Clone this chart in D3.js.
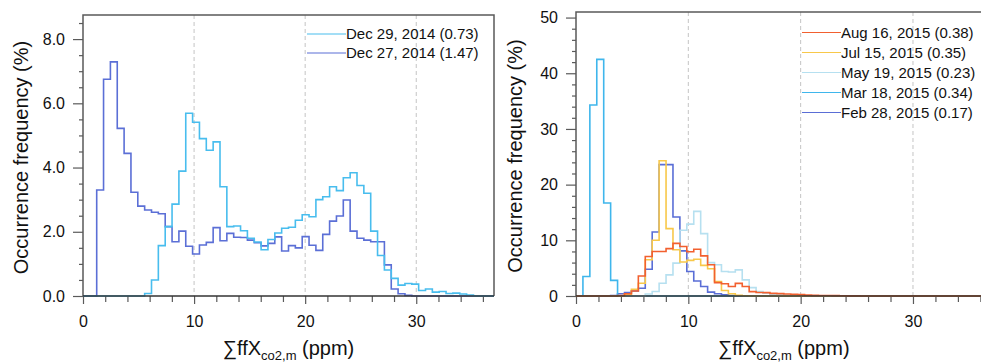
<!DOCTYPE html>
<html>
<head>
<meta charset="utf-8">
<script src="https://cdn.jsdelivr.net/npm/d3@7"></script>
<style>
body { margin: 0; background: #fff; }
svg { display: block; font-family: "Liberation Sans", Arial, sans-serif; }
</style>
</head>
<body>
<div id="vue"></div>
<script>
// bins : 60 classes de 0 a 37 ppm
var binCount = 60;
var binMax = 37;

// panneau gauche (decembre 2014)
var dec29 = [0,0,0,0,0,0,0,0,0,0.08,0.5,1.57,2.16,2.86,3.89,5.69,5.41,4.9,4.54,4.8,
  3.4,2.16,2.18,2.03,1.8,1.68,1.44,1.76,1.96,2.11,2.14,2.36,2.53,2.47,3.0,3.09,3.4,3.28,3.68,3.84,
  3.44,3.2,2.02,1.26,0.81,0.55,0.34,0.39,0.37,0.17,0.22,0.12,0.14,0.08,0.09,0.06,0.03,0,0,0];
var dec27 = [0,0,3.3,6.75,7.29,5.22,4.44,3.23,2.8,2.68,2.61,2.56,2.16,1.69,2.02,1.55,1.31,1.59,1.67,2.13,
  1.72,1.95,1.83,1.82,1.74,1.66,1.56,1.64,1.84,1.4,1.57,1.5,1.85,1.58,1.42,1.92,2.33,2.49,2.99,2.02,
  1.8,1.74,1.69,1.69,0.97,0.22,0.07,0.02,0,0,0,0,0,0,0,0,0,0,0,0];

// panneau droit (2015)
var aug16 = [0,0,0,0,0,0,0.1,0.4,0.9,3.6,7.1,8.0,8.0,8.5,9.45,8.9,7.95,8.4,7.2,5.6,
  2.4,2.2,1.7,2.27,1.7,0.78,0.62,0.6,0.48,0.42,0.36,0.3,0.24,0.16,0.12,0.1,0.08,0.06,0.04,0.03,
  0.02,0,0,0,0,0,0,0,0,0,0,0,0,0,0,0,0,0,0,0];
var jul15 = [0,0,0,0,0,0,0,0.3,1.2,2.3,6.5,10.0,24.3,12.1,8.3,6.1,6.4,6.6,5.5,4.9,
  2.6,1.0,0.4,0.12,0.05,0,0,0,0,0,0,0,0,0,0,0,0,0,0,0,
  0,0,0,0,0,0,0,0,0,0,0,0,0,0,0,0,0,0,0,0];
var may19 = [0,0,0,0,0,0,0,0,0,0,0.36,0.8,2.3,3.8,5.9,11.8,12.9,15.2,11.2,6.0,
  5.6,4.4,4.3,4.7,2.9,1.5,0.8,0.5,0.3,0.2,0.12,0.06,0,0,0,0,0,0,0,0,
  0,0,0,0,0,0,0,0,0,0,0,0,0,0,0,0,0,0,0,0];
var mar18 = [0,3.5,34.3,42.5,16.7,2.8,0,0,0,0,0,0,0,0,0,0,0,0,0,0,
  0,0,0,0,0,0,0,0,0,0,0,0,0,0,0,0,0,0,0,0,
  0,0,0,0,0,0,0,0,0,0,0,0,0,0,0,0,0,0,0,0];
var feb28 = [0,0,0,0,0,0.1,0.4,0.6,0.9,1.4,4.8,11.5,23.6,23.6,14.2,8.1,4.4,2.7,1.7,0.7,
  0.4,0.2,0.1,0,0,0,0,0,0,0,0,0,0,0,0,0,0,0,0,0,
  0,0,0,0,0,0,0,0,0,0,0,0,0,0,0,0,0,0,0,0];

var leftLabels = ["Dec 29, 2014 (0.73)", "Dec 27, 2014 (1.47)"];
var rightLabels = ["Aug 16, 2015 (0.38)", "Jul 15, 2015 (0.35)", "May 19, 2015 (0.23)",
  "Mar 18, 2015 (0.34)", "Feb 28, 2015 (0.17)"];

var xMajor = [0, 10, 20, 30];
var leftYMajor = [0, 2, 4, 6, 8];
var rightYMajor = [0, 10, 20, 30, 40, 50];

var width = 981, height = 362;
var svg = d3.select("#vue").append("svg")
  .attr("width", width)
  .attr("height", height);
svg.append("rect").attr("width", width).attr("height", height).attr("fill", "white");

var frameColor = "#5a5a5a";

function drawPanel(p) {
  var x = d3.scaleLinear().domain([0, binMax]).range([p.left, p.right]);
  var y = d3.scaleLinear().domain([0, p.yMax]).range([p.bottom, p.top]);
  var g = svg.append("g");

  // grille verticale pointillee
  g.selectAll("line.grid")
    .data(xMajor.slice(1))
    .enter().append("line")
    .attr("class", "grid")
    .attr("x1", d => x(d)).attr("x2", d => x(d))
    .attr("y1", p.top).attr("y2", p.bottom)
    .attr("stroke", "#c4c4c4")
    .attr("stroke-dasharray", "4,3");

  // ticks mineurs
  var xMinor = d3.range(0, binMax, 2).filter(d => xMajor.indexOf(d) < 0);
  g.append("g").attr("transform", "translate(0," + p.bottom + ")")
    .call(d3.axisBottom(x).tickValues(xMinor).tickSize(6).tickFormat(""))
    .call(a => a.select(".domain").remove());
  var yMinor = d3.range(0, p.yMax, p.yMinor).filter(d => p.yMajor.indexOf(d) < 0);
  g.append("g").attr("transform", "translate(" + p.left + ",0)")
    .call(d3.axisLeft(y).tickValues(yMinor).tickSize(4).tickFormat(""))
    .call(a => a.select(".domain").remove());

  // ticks majeurs + labels
  g.append("g").attr("transform", "translate(0," + p.bottom + ")")
    .call(d3.axisBottom(x).tickValues(xMajor).tickSize(8).tickPadding(12).tickFormat(d3.format("d")))
    .call(a => a.select(".domain").remove());
  g.append("g").attr("transform", "translate(" + p.left + ",0)")
    .call(d3.axisLeft(y).tickValues(p.yMajor).tickSize(10).tickPadding(8).tickFormat(d3.format(p.yFormat)))
    .call(a => a.select(".domain").remove());

  g.selectAll(".tick line").attr("stroke", frameColor).attr("stroke-width", 1.2);
  g.selectAll(".tick text").attr("font-size", 16).attr("fill", "#111")
    .attr("font-family", "'Liberation Sans', Arial, sans-serif");

  // courbes en escalier
  var line = d3.line()
    .x(d => x(d[0]))
    .y(d => y(d[1]))
    .curve(d3.curveStepAfter);
  p.series.forEach(function (s) {
    var pts = s.values.map((v, i) => [i * binMax / binCount, v]);
    pts.push([binMax, s.values[s.values.length - 1]]);
    g.append("path")
      .datum(pts)
      .attr("d", line)
      .attr("fill", "none")
      .attr("stroke", s.color)
      .attr("stroke-width", 1.6);
  });

  // cadre
  g.append("path")
    .attr("d", "M" + p.left + "," + p.bottom + "V" + p.top + "H" + p.right + "V" + p.bottom)
    .attr("fill", "none").attr("stroke", frameColor).attr("stroke-width", 1.5);
  g.append("line")
    .attr("x1", p.left).attr("x2", p.right)
    .attr("y1", p.bottom).attr("y2", p.bottom)
    .attr("stroke", "#333").attr("stroke-width", 1.5);

  // legende
  var leg = g.selectAll("g.leg")
    .data(p.legend)
    .enter().append("g")
    .attr("transform", (d, i) => "translate(0," + (p.legY + i * p.legStep) + ")");
  leg.append("line")
    .attr("x1", p.legX).attr("x2", p.legX + 39)
    .attr("stroke", d => d.color).attr("stroke-width", 1.2);
  leg.append("text")
    .attr("x", p.legX + 39)
    .attr("dy", "0.35em")
    .attr("font-size", 15)
    .attr("fill", "#111")
    .text(d => d.label);

  // titres des axes
  g.append("text")
    .attr("transform", "translate(" + p.yTitleX + "," + ((p.top + p.bottom) / 2 + 2) + ") rotate(-90)")
    .attr("text-anchor", "middle")
    .attr("font-size", 20)
    .attr("fill", "#111")
    .text("Occurrence frequency (%)");

  var xt = g.append("text")
    .attr("x", (p.left + p.right) / 2)
    .attr("y", 355)
    .attr("text-anchor", "middle")
    .attr("font-size", 20)
    .attr("fill", "#111");
  xt.append("tspan").text("\u2211ffX");
  xt.append("tspan").attr("font-size", 13).attr("dy", 5).text("co2,m");
  xt.append("tspan").attr("dy", -5).text(" (ppm)");
}

var cDec29 = "#48bdee", cDec27 = "#5b6fd6";
var cAug = "#f2602f", cJul = "#f8c84a", cMay = "#b6e0f0", cMar = "#3fb6ec", cFeb = "#5a6ed6";

drawPanel({
  left: 83, right: 494, top: 15, bottom: 296,
  yMax: 8.75, yMajor: leftYMajor, yMinor: 0.5, yFormat: ".1f",
  yTitleX: 28,
  series: [
    { values: dec27, color: cDec27 },
    { values: dec29, color: cDec29 }
  ],
  legend: [
    { label: leftLabels[0], color: cDec29 },
    { label: leftLabels[1], color: cDec27 }
  ],
  legX: 307, legY: 34, legStep: 19
});

drawPanel({
  left: 576, right: 991.6, top: 12, bottom: 296,
  yMax: 51, yMajor: rightYMajor, yMinor: 2, yFormat: "d",
  yTitleX: 522,
  series: [
    { values: feb28, color: cFeb },
    { values: mar18, color: cMar },
    { values: may19, color: cMay },
    { values: jul15, color: cJul },
    { values: aug16, color: cAug }
  ],
  legend: [
    { label: rightLabels[0], color: cAug },
    { label: rightLabels[1], color: cJul },
    { label: rightLabels[2], color: cMay },
    { label: rightLabels[3], color: cMar },
    { label: rightLabels[4], color: cFeb }
  ],
  legX: 802, legY: 32.5, legStep: 20
});
</script>
</body>
</html>
